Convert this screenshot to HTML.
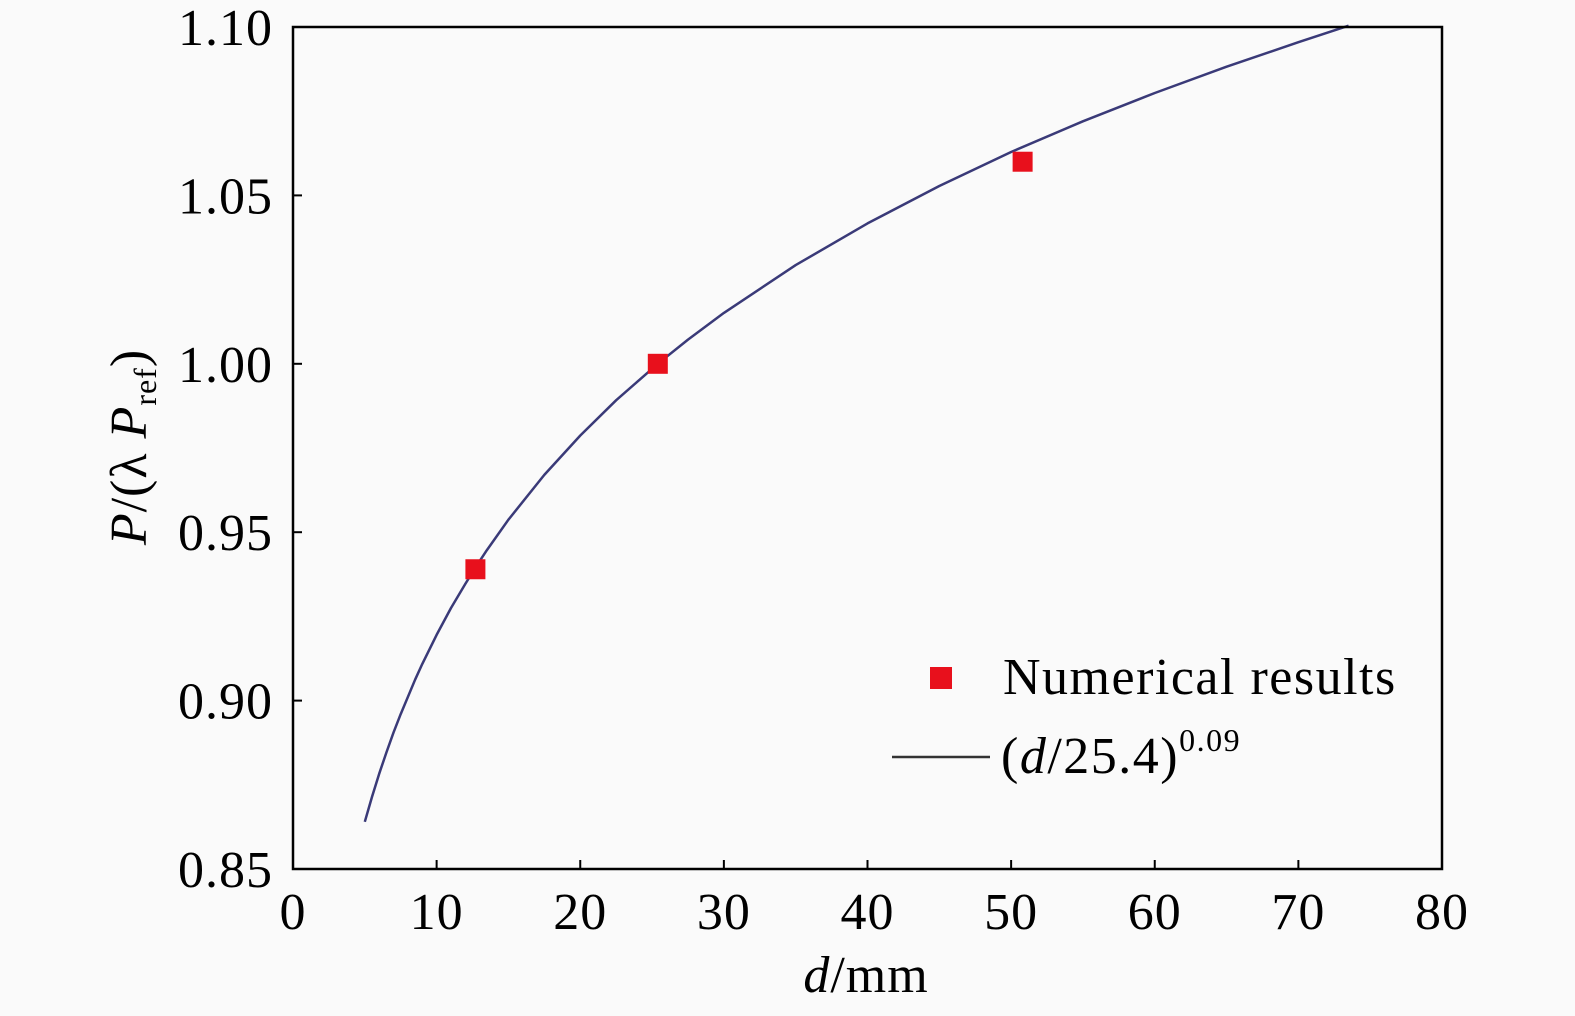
<!DOCTYPE html>
<html><head><meta charset="utf-8"><style>
html,body{margin:0;padding:0;background:#fafafa;}
svg{display:block;font-family:"Liberation Serif",serif;}
</style></head><body>
<svg id="chart" width="1575" height="1016" viewBox="0 0 1575 1016">
<rect x="0" y="0" width="1575" height="1016" fill="#fafafa"/>
<g id="plot"></g>
<g id="axes"></g>
<text x="866" y="992" font-size="52" letter-spacing="1" text-anchor="middle"><tspan font-style="italic">d</tspan>/mm</text>
<text transform="translate(146,447) rotate(-90)" font-size="52" letter-spacing="1" text-anchor="middle"><tspan font-style="italic">P</tspan>/(λ <tspan font-style="italic">P</tspan><tspan font-size="32" dy="10">ref</tspan><tspan dy="-10">)</tspan></text>
<g>
<rect x="930" y="667" width="22" height="22" fill="#e8101c"/>
<text x="1003" y="694" font-size="52" letter-spacing="1.5">Numerical results</text>
<line x1="892" y1="757" x2="990" y2="757" stroke="#333" stroke-width="2.5"/>
<text x="1001" y="773" font-size="52" letter-spacing="1.5">(<tspan font-style="italic">d</tspan>/25.4)<tspan font-size="32" dy="-22">0.09</tspan></text>
</g>
</svg>
<script>
const xTicks=[0,10,20,30,40,50,60,70,80];
const yTicks=[0.85,0.90,0.95,1.00,1.05,1.10];
const yTickLabels=["0.85","0.90","0.95","1.00","1.05","1.10"];
const fitD=[5,5.5,6,6.5,7,7.5,8.5,9,10,11,12,12.7,13.5,15,17.5,20,22.5,25.4,27.5,30,35,40,45,50,55,60,65,70,73.5];
const fitP=[0.864,0.8714,0.8783,0.8846,0.8905,0.896,0.9062,0.9109,0.9195,0.9275,0.9347,0.9395,0.9447,0.9537,0.9670,0.9787,0.9892,1.0,1.0072,1.0151,1.0293,1.0417,1.0528,1.0629,1.0720,1.0804,1.0882,1.0955,1.1004];
const numD=[12.7,25.4,50.8];
const numP=[0.939,1.000,1.060];
const L=293,R=1442,T=27,B=869;
const xS=v=>L+(v-0)/(80-0)*(R-L);
const yS=v=>B-(v-0.85)/(1.10-0.85)*(B-T);
const NS="http://www.w3.org/2000/svg";
const plot=document.getElementById('plot'),axes=document.getElementById('axes');
function mk(tag,attrs,parent){const e=document.createElementNS(NS,tag);for(const k in attrs)e.setAttribute(k,attrs[k]);parent.appendChild(e);return e;}
let d='';fitD.forEach((x,i)=>{d+=(i?'L':'M')+xS(x).toFixed(1)+','+yS(fitP[i]).toFixed(1);});
const path=mk('path',{d:d,fill:'none',stroke:'#3a3a78','stroke-width':2.5,'stroke-linejoin':'round'},plot);


numD.forEach((x,i)=>{
 const r=mk('rect',{x:xS(x)-10,y:yS(numP[i])-10,width:20,height:20,fill:'#e8101c'},plot);
 
 
});
const fr=mk('rect',{x:L,y:T,width:R-L,height:B-T,fill:'none',stroke:'#000','stroke-width':2.5},axes);


xTicks.forEach(v=>{
 const x=xS(v);
 const t=mk('line',{x1:x,y1:B,x2:x,y2:B-9,stroke:'#000','stroke-width':2},axes);
 
 
 const lb=mk('text',{x:x,y:B+60,'font-size':52,'letter-spacing':1,'text-anchor':'middle'},axes);
 lb.textContent=String(v);
 
 
});
yTicks.forEach((v,i)=>{
 const y=yS(v);
 const t=mk('line',{x1:L,y1:y,x2:L+9,y2:y,stroke:'#000','stroke-width':2},axes);
 
 
 const lb=mk('text',{x:L-20,y:y+18,'font-size':52,'letter-spacing':1,'text-anchor':'end'},axes);
 lb.textContent=yTickLabels[i];
 
 
});
</script>
</body></html>
